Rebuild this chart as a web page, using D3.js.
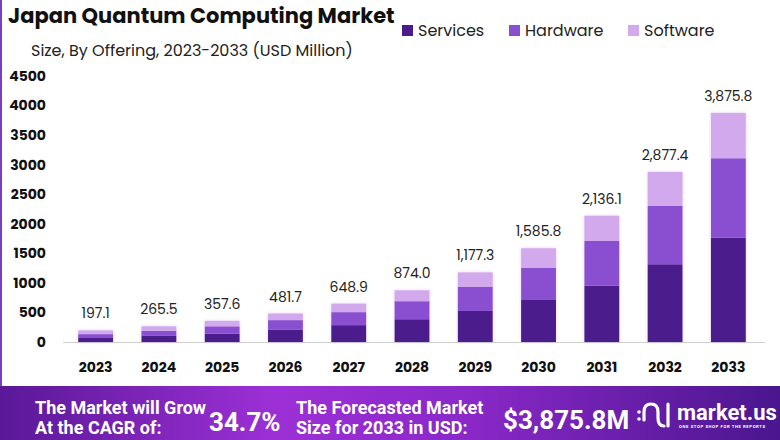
<!DOCTYPE html>
<html>
<head>
<meta charset="utf-8">
<script src="https://cdn.jsdelivr.net/npm/d3@7"></script>
<style>
  body { margin: 0; background: #fff; }
  svg { display: block; }
</style>
</head>
<body>
<svg id="chart" width="780" height="440"></svg>
<script>
// values (USD Million)
var years = ["2023","2024","2025","2026","2027","2028","2029","2030","2031","2032","2033"];
var services = [78, 104, 140, 205, 285, 385, 525, 711, 953, 1315, 1765];
var hardware = [55, 85, 125, 165, 220, 305, 411, 546, 756, 986, 1343];
var software = [64.1, 76.5, 92.6, 111.7, 143.9, 184.0, 241.3, 328.8, 427.1, 576.4, 767.8];
var totals = [197.1, 265.5, 357.6, 481.7, 648.9, 874.0, 1177.3, 1585.8, 2136.1, 2877.4, 3875.8];
var yTicks = [0, 500, 1000, 1500, 2000, 2500, 3000, 3500, 4000, 4500];
var seriesNames = ["Services", "Hardware", "Software"];
var colors = ["#4b1a8b", "#8a4fd0", "#d3a9ee"];

var svg = d3.select("#chart");
var font = "Poppins, 'Open Sans', sans-serif";

var rows = years.map(function(y, i) {
  return { year: y, Services: services[i], Hardware: hardware[i], Software: software[i], total: totals[i] };
});

var x = d3.scaleBand()
    .domain(years)
    .range([64, 760])
    .paddingInner(0.45)
    .paddingOuter(0.225);

var y = d3.scaleLinear()
    .domain([0, 4500])
    .range([342, 76]);

var stack = d3.stack().keys(seriesNames)(rows);

var defs = svg.append("defs");
var shadow = defs.append("filter").attr("id", "shadow")
    .attr("x", "-20%").attr("y", "-20%").attr("width", "140%").attr("height", "140%");
shadow.append("feDropShadow")
    .attr("dx", 0).attr("dy", 0).attr("stdDeviation", 1.5)
    .attr("flood-color", "#7a3fc0").attr("flood-opacity", 0.25);

// left border
svg.append("rect")
    .attr("x", 0).attr("y", 0)
    .attr("width", 2).attr("height", 386)
    .attr("fill", "#7a3fc0");

// title
svg.append("text")
    .attr("x", 8).attr("y", 23)
    .style("font-family", font)
    .style("font-size", "21px")
    .style("font-weight", "bold")
    .attr("fill", "#111")
    .text("Japan Quantum Computing Market");

svg.append("text")
    .attr("x", 31).attr("y", 56)
    .style("font-family", font)
    .style("font-size", "16px")
    .attr("fill", "#222")
    .text("Size, By Offering, 2023-2033 (USD Million)");

// legend
var legendX = [402, 509, 628];
var lg = svg.append("g").selectAll("g")
    .data(seriesNames)
  .enter().append("g")
    .attr("transform", function(d, i) { return "translate(" + legendX[i] + ",25)"; });

lg.append("rect")
    .attr("width", 11).attr("height", 11)
    .attr("fill", function(d, i) { return colors[i]; });

lg.append("text")
    .attr("x", 16).attr("y", 11)
    .style("font-family", font)
    .style("font-size", "16px")
    .attr("fill", "#222")
    .text(function(d) { return d; });

// y axis labels
svg.append("g").selectAll("text")
    .data(yTicks)
  .enter().append("text")
    .attr("x", 46)
    .attr("y", function(d) { return y(d); })
    .attr("dy", ".35em")
    .style("text-anchor", "end")
    .style("font-family", font)
    .style("font-size", "14px")
    .style("font-weight", "bold")
    .attr("fill", "#111")
    .text(function(d) { return d; });

// baseline
svg.append("line")
    .attr("x1", 63).attr("x2", 765)
    .attr("y1", y(0) + 0.5).attr("y2", y(0) + 0.5)
    .attr("stroke", "#cfcfcf");

// bars
var barsG = svg.append("g").attr("filter", "url(#shadow)");
var layer = barsG.selectAll("g")
    .data(stack)
  .enter().append("g")
    .attr("fill", function(d, i) { return colors[i]; });

layer.selectAll("rect")
    .data(function(d) { return d; })
  .enter().append("rect")
    .attr("x", function(d) { return x(d.data.year); })
    .attr("y", function(d) { return y(d[1]); })
    .attr("width", x.bandwidth())
    .attr("height", function(d) { return y(d[0]) - y(d[1]); });

// value labels
svg.append("g").selectAll("text")
    .data(rows)
  .enter().append("text")
    .attr("x", function(d) { return x(d.year) + x.bandwidth() / 2; })
    .attr("y", function(d) { return y(d.total) - 12; })
    .style("text-anchor", "middle")
    .style("font-family", font)
    .style("font-size", "14px")
    .attr("fill", "#222")
    .text(function(d) { return d3.format(",.1f")(d.total); });

// x labels
svg.append("g").selectAll("text")
    .data(years)
  .enter().append("text")
    .attr("x", function(d) { return x(d) + x.bandwidth() / 2; })
    .attr("y", 372)
    .style("text-anchor", "middle")
    .style("font-family", font)
    .style("font-size", "14px")
    .style("font-weight", "bold")
    .attr("fill", "#111")
    .text(function(d) { return d; });

// footer
var grad = defs.append("linearGradient")
    .attr("id", "foot")
    .attr("x1", "0%").attr("x2", "100%");
grad.append("stop").attr("offset", "0%").attr("stop-color", "#5a1898");
grad.append("stop").attr("offset", "35%").attr("stop-color", "#9c30d6");
grad.append("stop").attr("offset", "60%").attr("stop-color", "#8a28c8");
grad.append("stop").attr("offset", "100%").attr("stop-color", "#4a168e");

svg.append("rect")
    .attr("x", 0).attr("y", 386)
    .attr("width", 780).attr("height", 54)
    .attr("fill", "url(#foot)");

var foot = svg.append("g")
    .style("font-family", "Roboto, sans-serif")
    .style("font-weight", "bold")
    .attr("fill", "#fff");

foot.append("text").attr("x", 35).attr("y", 414).style("font-size", "18px").text("The Market will Grow");
foot.append("text").attr("x", 35).attr("y", 434).style("font-size", "18px").text("At the CAGR of:");
foot.append("text").attr("x", 209).attr("y", 431).style("font-size", "26px").text("34.7%");
foot.append("text").attr("x", 296).attr("y", 414).style("font-size", "18px").text("The Forecasted Market");
foot.append("text").attr("x", 296).attr("y", 434).style("font-size", "18px").text("Size for 2033 in USD:");
foot.append("text").attr("x", 503).attr("y", 429).style("font-size", "26px").text("$3,875.8M");

// logo
var logo = svg.append("g")
    .attr("fill", "none")
    .attr("stroke", "#fff")
    .attr("stroke-width", 3.2)
    .attr("stroke-linecap", "round");
logo.append("path").attr("d", "M644,420 L644,412 Q644,404 651,404 Q658,404 658,412 L658,418 Q658,426 664,426");
logo.append("line").attr("x1", 668).attr("y1", 404).attr("x2", 668).attr("y2", 426);
svg.append("circle").attr("cx", 639).attr("cy", 412).attr("r", 1.8).attr("fill", "#fff");
svg.append("circle").attr("cx", 639).attr("cy", 419).attr("r", 1.8).attr("fill", "#fff");

foot.append("text").attr("x", 677).attr("y", 420).style("font-size", "22px").text("market.us");
foot.append("text").attr("x", 679).attr("y", 428).style("font-size", "4.2px").style("letter-spacing", "0.6px").text("ONE STOP SHOP FOR THE REPORTS");
</script>
</body>
</html>
